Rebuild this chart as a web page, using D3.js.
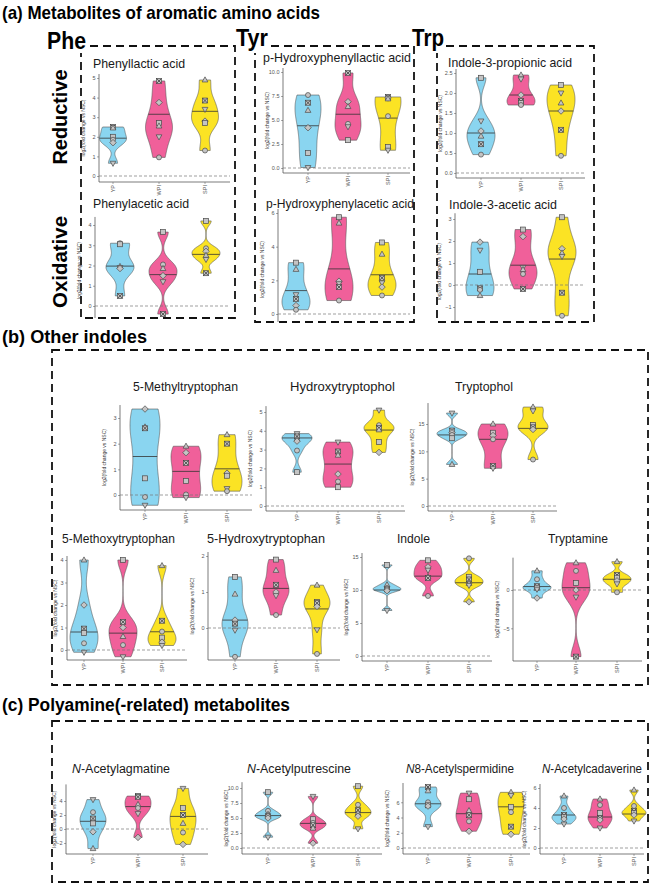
<!DOCTYPE html>
<html>
<head>
<meta charset="utf-8">
<script src="https://cdnjs.cloudflare.com/ajax/libs/d3/7.8.5/d3.min.js"></script>
<style>body{margin:0;background:#fff}</style>
</head>
<body>
<div id="chart"></div>
<script>
// groups and colours
var groups = ["YP", "WPI", "SPI"];
var groupColors = ["#8ad5f0", "#f0609a", "#fbe324"];

// values: [log2 fold change, shape]  o circle, t triangle, s square, d diamond, v triangle down, x crossed square
// (a) aromatic amino acids
var phenyllactic = {
  YP: [[2.5, "x"], [2.45, "t"], [2.0, "s"], [1.85, "o"], [1.7, "d"], [0.65, "v"]],
  WPI: [[4.85, "x"], [3.75, "d"], [2.7, "s"], [2.55, "t"], [2.0, "v"], [0.95, "o"]],
  SPI: [[4.9, "t"], [3.85, "x"], [3.4, "v"], [2.8, "d"], [2.7, "s"], [1.3, "o"]]
};
var phenyllacticLine = [1.93, 3.15, 3.3];

var phenylacetic = {
  YP: [[3.1, "o"], [3.05, "s"], [1.95, "t"], [1.9, "v"], [1.85, "d"], [0.5, "x"]],
  WPI: [[3.65, "s"], [2.05, "o"], [1.85, "t"], [1.5, "d"], [1.2, "v"], [-0.4, "x"]],
  SPI: [[4.2, "s"], [2.85, "o"], [2.7, "d"], [2.5, "t"], [2.3, "v"], [1.62, "x"]]
};
var phenylaceticLine = [1.97, 1.55, 2.55];

var hpLactic = {
  YP: [[7.6, "o"], [6.8, "x"], [6.0, "t"], [4.2, "d"], [1.55, "s"], [0.05, "v"]],
  WPI: [[9.9, "x"], [6.9, "d"], [6.4, "t"], [4.6, "o"], [4.3, "v"], [2.9, "s"]],
  SPI: [[7.4, "x"], [7.3, "d"], [7.2, "t"], [5.4, "o"], [2.2, "s"], [1.85, "v"]]
};
var hpLacticLine = [4.4, 5.6, 5.2];

var hpAcetic = {
  YP: [[3.05, "s"], [2.65, "t"], [1.15, "v"], [0.9, "x"], [0.5, "d"], [0.25, "o"]],
  WPI: [[5.75, "s"], [5.4, "t"], [1.95, "d"], [1.8, "v"], [1.6, "x"], [0.8, "o"]],
  SPI: [[4.25, "s"], [3.55, "t"], [2.15, "x"], [1.85, "v"], [1.6, "d"], [1.1, "o"]]
};
var hpAceticLine = [1.39, 2.68, 2.33];

var indolePropionic = {
  YP: [[2.38, "s"], [1.3, "v"], [1.05, "d"], [0.92, "t"], [0.72, "x"], [0.46, "o"]],
  WPI: [[2.45, "t"], [2.35, "v"], [1.95, "d"], [1.8, "x"], [1.75, "s"], [1.7, "o"]],
  SPI: [[2.2, "s"], [2.0, "v"], [1.75, "t"], [1.55, "d"], [1.08, "x"], [0.43, "o"]]
};
var indolePropionicLine = [1.0, 1.95, 1.55];

var indoleAcetic = {
  YP: [[1.95, "d"], [1.58, "v"], [0.6, "s"], [-0.15, "x"], [-0.22, "o"], [-0.48, "t"]],
  WPI: [[2.52, "s"], [2.2, "d"], [0.8, "v"], [0.7, "t"], [0.5, "o"], [-0.18, "x"]],
  SPI: [[3.08, "s"], [1.65, "d"], [1.45, "t"], [1.3, "v"], [-0.35, "x"], [-1.4, "o"]]
};
var indoleAceticLine = [0.5, 0.9, 1.18];

// (b) other indoles
var methylTrp = {
  YP: [[3.35, "d"], [2.65, "t"], [2.6, "x"], [0.65, "s"], [-0.08, "o"], [-0.4, "v"]],
  WPI: [[1.9, "t"], [1.65, "d"], [1.25, "x"], [0.55, "s"], [0.02, "o"], [-0.1, "v"]],
  SPI: [[2.35, "t"], [2.0, "x"], [0.85, "d"], [0.75, "s"], [0.25, "v"], [0.15, "o"]]
};
var methylTrpLine = [1.5, 0.92, 1.02];

var hydroxytryptophol = {
  YP: [[3.85, "v"], [3.7, "x"], [3.55, "t"], [3.45, "d"], [2.95, "o"], [1.8, "s"]],
  WPI: [[3.4, "v"], [2.9, "x"], [2.7, "t"], [1.7, "d"], [1.3, "o"], [1.0, "s"]],
  SPI: [[5.1, "v"], [4.3, "o"], [4.15, "x"], [4.05, "t"], [3.4, "s"], [2.85, "d"]]
};
var hydroxytryptopholLine = [3.62, 2.23, 4.04];

var tryptophol = {
  YP: [[17.0, "v"], [13.8, "x"], [13.4, "d"], [13.0, "o"], [12.4, "s"], [7.6, "t"]],
  WPI: [[15.0, "t"], [13.4, "s"], [12.9, "d"], [12.2, "o"], [7.3, "x"], [6.9, "v"]],
  SPI: [[18.1, "t"], [17.4, "v"], [14.8, "s"], [14.4, "x"], [14.0, "d"], [8.5, "o"]]
};
var tryptopholLine = [13.0, 12.2, 14.2];

var methoxyTrp = {
  YP: [[4.0, "t"], [2.0, "d"], [0.95, "x"], [0.75, "s"], [0.3, "o"], [-0.1, "v"]],
  WPI: [[4.0, "s"], [1.25, "x"], [1.0, "d"], [0.6, "t"], [0.22, "o"], [-0.3, "v"]],
  SPI: [[3.75, "t"], [1.3, "x"], [0.82, "o"], [0.55, "s"], [0.35, "d"], [0.2, "v"]]
};
var methoxyTrpLine = [0.8, 0.75, 0.81];

var hydroxyTrp = {
  YP: [[1.42, "s"], [0.94, "t"], [0.22, "d"], [0.12, "x"], [-0.06, "v"], [-0.8, "o"]],
  WPI: [[1.9, "s"], [1.6, "t"], [1.2, "x"], [1.0, "d"], [0.9, "v"], [0.36, "o"]],
  SPI: [[1.19, "t"], [0.72, "s"], [0.69, "x"], [0.6, "d"], [-0.05, "v"], [-0.72, "o"]]
};
var hydroxyTrpLine = [0.22, 1.1, 0.53];

var indole = {
  YP: [[13.8, "s"], [10.8, "t"], [10.3, "o"], [10.1, "x"], [9.9, "d"], [6.9, "v"]],
  WPI: [[14.5, "s"], [13.5, "d"], [13.0, "v"], [12.0, "t"], [11.8, "x"], [9.1, "o"]],
  SPI: [[14.8, "o"], [12.0, "s"], [11.6, "x"], [11.0, "t"], [10.7, "v"], [8.2, "d"]]
};
var indoleLine = [10.0, 12.1, 11.1];

var tryptamine = {
  YP: [[2.5, "t"], [1.4, "o"], [0.5, "x"], [0.3, "s"], [0.1, "v"], [-1.05, "d"]],
  WPI: [[3.55, "t"], [2.5, "o"], [0.9, "s"], [0.0, "d"], [-0.93, "v"], [-8.7, "x"]],
  SPI: [[3.7, "t"], [1.96, "x"], [1.6, "s"], [1.2, "d"], [0.8, "v"], [-0.3, "o"]]
};
var tryptamineLine = [0.45, 0.3, 1.4];

// (c) polyamine(-related)
var agmatine = {
  YP: [[4.2, "v"], [2.4, "o"], [1.5, "x"], [0.8, "s"], [-0.4, "d"], [-2.8, "t"]],
  WPI: [[4.7, "s"], [4.6, "x"], [3.5, "t"], [3.0, "o"], [2.2, "v"], [-1.2, "d"]],
  SPI: [[5.8, "v"], [3.0, "s"], [2.0, "x"], [0.8, "t"], [-0.5, "o"], [-2.2, "d"]]
};
var agmatineLine = [1.1, 3.2, 1.8];

var putrescine = {
  YP: [[9.3, "s"], [6.2, "o"], [5.6, "t"], [5.3, "x"], [5.0, "d"], [1.8, "v"]],
  WPI: [[8.6, "v"], [4.8, "s"], [4.2, "o"], [3.8, "x"], [3.3, "t"], [0.8, "d"]],
  SPI: [[10.3, "s"], [7.2, "o"], [6.3, "x"], [5.8, "t"], [5.3, "d"], [3.2, "v"]]
};
var putrescineLine = [5.4, 4.1, 5.9];

var spermidine = {
  YP: [[8.0, "x"], [7.5, "t"], [6.0, "o"], [5.6, "s"], [5.5, "d"], [2.8, "v"]],
  WPI: [[7.2, "v"], [6.4, "s"], [4.9, "t"], [4.3, "x"], [3.5, "o"], [2.2, "d"]],
  SPI: [[7.3, "t"], [6.9, "v"], [5.4, "s"], [4.7, "o"], [2.8, "x"], [1.8, "d"]]
};
var spermidineLine = [5.8, 4.5, 5.4];

var cadaverine = {
  YP: [[5.2, "t"], [4.0, "o"], [3.3, "x"], [3.1, "s"], [2.9, "d"], [2.4, "v"]],
  WPI: [[4.9, "t"], [4.3, "o"], [3.5, "s"], [3.0, "x"], [2.8, "d"], [2.0, "v"]],
  SPI: [[5.8, "t"], [4.2, "o"], [3.7, "x"], [3.5, "s"], [3.3, "d"], [2.7, "v"]]
};
var cadaverineLine = [3.3, 3.1, 3.4];

var svg = d3.select("#chart").append("svg")
  .attr("width", 653)
  .attr("height", 885)
  .style("font-family", "'Liberation Sans', Arial, sans-serif");

svg.append("rect").attr("width", 653).attr("height", 885).attr("fill", "#fff");
var defs = svg.append("defs");

// bandwidth like R's bw.nrd0
function bwNrd0(x) {
  var sorted = x.slice().sort(d3.ascending);
  var sd = d3.deviation(x);
  var iqr = d3.quantileSorted(sorted, 0.75) - d3.quantileSorted(sorted, 0.25);
  var lo = Math.min(sd, iqr / 1.34);
  if (!lo) lo = sd || Math.abs(sorted[0]) || 1;
  return 0.9 * lo * Math.pow(x.length, -0.2);
}

function density(vals) {
  var bw = bwNrd0(vals);
  var ext = d3.extent(vals);
  var n = 120;
  return d3.range(n + 1).map(function(i) {
    var v = ext[0] + (ext[1] - ext[0]) * i / n;
    var d = d3.mean(vals, function(p) { return Math.exp(-0.5 * Math.pow((v - p) / bw, 2)); });
    return {v: v, d: d};
  });
}

function drawShape(g, code, cx, cy) {
  var r = 2.5;
  var el;
  if (code === "o") {
    el = g.append("circle").attr("cx", cx).attr("cy", cy).attr("r", r);
  } else if (code === "t") {
    el = g.append("path").attr("d", "M" + cx + "," + (cy - r * 1.25) + "L" + (cx + r * 1.15) + "," + (cy + r * 0.8) + "L" + (cx - r * 1.15) + "," + (cy + r * 0.8) + "Z");
  } else if (code === "v") {
    el = g.append("path").attr("d", "M" + cx + "," + (cy + r * 1.25) + "L" + (cx + r * 1.15) + "," + (cy - r * 0.8) + "L" + (cx - r * 1.15) + "," + (cy - r * 0.8) + "Z");
  } else if (code === "d") {
    el = g.append("path").attr("d", "M" + cx + "," + (cy - r * 1.3) + "L" + (cx + r * 1.3) + "," + cy + "L" + cx + "," + (cy + r * 1.3) + "L" + (cx - r * 1.3) + "," + cy + "Z");
  } else {
    el = g.append("rect").attr("x", cx - r).attr("y", cy - r).attr("width", 2 * r).attr("height", 2 * r);
  }
  el.attr("fill", "#c4c4c4").attr("stroke", "#4a4a4a").attr("stroke-width", 0.7);
  if (code === "x") {
    g.append("path")
      .attr("d", "M" + (cx - r) + "," + (cy - r) + "L" + (cx + r) + "," + (cy + r) + "M" + (cx + r) + "," + (cy - r) + "L" + (cx - r) + "," + (cy + r))
      .attr("stroke", "#3a3a3a").attr("stroke-width", 0.8);
  }
}

// one violin panel
function drawPanel(p, data, lines) {
  var y = d3.scaleLinear()
    .domain([p.yRef[0][0], p.yRef[1][0]])
    .range([p.yRef[0][1], p.yRef[1][1]]);
  var x = d3.scaleOrdinal().domain(groups).range(p.centers);

  var g = svg.append("g");
  if (p.clip) {
    defs.append("clipPath").attr("id", "clip-" + p.key)
      .append("rect").attr("x", 0).attr("y", 0).attr("width", 653).attr("height", p.clip);
    g.attr("clip-path", "url(#clip-" + p.key + ")");
  }

  // title
  var t = g.append("text")
    .attr("x", p.tx)
    .attr("y", p.ty)
    .attr("font-size", p.fs || 13)
    .attr("fill", "#1a1a1a")
    .attr("textLength", p.tw)
    .attr("lengthAdjust", "spacingAndGlyphs");
  if (p.italic) {
    t.append("tspan").attr("font-style", "italic").text(p.italic);
  }
  t.append("tspan").text(p.title);

  var allVals = [];
  groups.forEach(function(k) { data[k].forEach(function(d) { allVals.push(d[0]); }); });
  var top = Math.min(y(d3.max(p.ticks)), y(d3.max(allVals))) - 4;

  // y axis
  var yAxis = d3.axisLeft(y).tickValues(p.ticks).tickSize(2).tickPadding(1.5)
    .tickFormat(d3.format(p.fmt || "d"));
  var ya = g.append("g")
    .attr("transform", "translate(" + p.axisX + ",0)")
    .call(yAxis);
  ya.select(".domain").remove();
  ya.selectAll("line").attr("stroke", "#555").attr("stroke-width", 0.5);
  ya.selectAll("text").attr("font-size", 5.5).attr("fill", "#555").attr("font-family", "'Liberation Sans', Arial, sans-serif");
  g.append("line")
    .attr("x1", p.axisX).attr("x2", p.axisX)
    .attr("y1", top).attr("y2", p.xAxisY)
    .attr("stroke", "#444").attr("stroke-width", 0.7);

  // y title
  g.append("text")
    .attr("transform", "translate(" + (p.axisX - (p.yTitleOff || 14)) + "," + ((top + p.xAxisY) / 2) + ") rotate(-90)")
    .attr("text-anchor", "middle")
    .attr("font-size", 5)
    .attr("fill", "#333")
    .text("log2(fold change vs NSC)");

  // x axis
  g.append("line")
    .attr("x1", p.axisX).attr("x2", p.axisEnd)
    .attr("y1", p.xAxisY).attr("y2", p.xAxisY)
    .attr("stroke", "#444").attr("stroke-width", 0.7);
  groups.forEach(function(k) {
    g.append("line")
      .attr("x1", x(k)).attr("x2", x(k))
      .attr("y1", p.xAxisY).attr("y2", p.xAxisY + 2)
      .attr("stroke", "#555").attr("stroke-width", 0.5);
    g.append("text")
      .attr("transform", "translate(" + (x(k) + 2) + "," + (p.xAxisY + 3) + ") rotate(-90)")
      .attr("text-anchor", "end")
      .attr("font-size", 5.5)
      .attr("fill", "#555")
      .text(k);
  });

  // violins
  groups.forEach(function(k, i) {
    var vals = data[k].map(function(d) { return d[0]; });
    var dens = density(vals);
    var maxD = d3.max(dens, function(d) { return d.d; });
    var w = d3.scaleLinear().domain([0, maxD]).range([0, p.hw]);
    var cx = x(k);
    var area = d3.area()
      .x0(function(d) { return cx - w(d.d); })
      .x1(function(d) { return cx + w(d.d); })
      .y(function(d) { return y(d.v); });
    g.append("path")
      .datum(dens)
      .attr("d", area)
      .attr("fill", groupColors[i])
      .attr("stroke", "#555")
      .attr("stroke-width", 0.6);

    // line across the violin
    var lv = lines[i];
    var j = d3.bisector(function(d) { return d.v; }).left(dens, lv);
    j = Math.max(1, Math.min(dens.length - 1, j));
    var a = dens[j - 1], b = dens[j];
    var f = (b.v - a.v) ? (lv - a.v) / (b.v - a.v) : 0;
    var half = w(a.d + (b.d - a.d) * f);
    g.append("line")
      .attr("x1", cx - half).attr("x2", cx + half)
      .attr("y1", y(lv)).attr("y2", y(lv))
      .attr("stroke", "#333").attr("stroke-width", 0.8);
  });

  // zero reference line
  g.append("line")
    .attr("x1", p.axisX).attr("x2", p.axisEnd)
    .attr("y1", y(0)).attr("y2", y(0))
    .attr("stroke", "#777").attr("stroke-width", 0.7)
    .attr("stroke-dasharray", "3,2");

  // points
  groups.forEach(function(k) {
    data[k].forEach(function(d) {
      drawShape(g, d[1], x(k), y(d[0]));
    });
  });
}

// dashed frames
function dashedPath(d) {
  svg.append("path")
    .attr("d", d)
    .attr("fill", "none")
    .attr("stroke", "#111")
    .attr("stroke-width", 1.8)
    .attr("stroke-dasharray", "8,5");
}

function bigText(txt, x, y, w, size, anchor, rot) {
  var t = svg.append("text")
    .attr("font-weight", "bold")
    .attr("font-size", size)
    .attr("fill", "#000")
    .attr("textLength", w)
    .attr("lengthAdjust", "spacingAndGlyphs")
    .text(txt);
  if (rot) {
    t.attr("transform", "translate(" + x + "," + y + ") rotate(-90)").attr("text-anchor", "middle");
  } else {
    t.attr("x", x).attr("y", y);
  }
}

// section titles
bigText("(a) Metabolites of aromatic amino acids", 2, 19, 318, 19);
bigText("Phe", 47, 49, 39, 24);
bigText("Tyr", 236, 46, 32, 24);
bigText("Trp", 412, 46, 32, 24);
bigText("Reductive", 67, 117, 95, 21, "middle", true);
bigText("Oxidative", 67, 262, 92, 21, "middle", true);
bigText("(b) Other indoles", 2, 343, 145, 18);
bigText("(c) Polyamine(-related) metabolites", 2, 711, 288, 18);

dashedPath("M90,46H235V318H81V53");
dashedPath("M271,46H414V322H255V53");
dashedPath("M446,46H594V322H437V53");
dashedPath("M52,350H648V685H52Z");
dashedPath("M52,721H648V882H52Z");

// panels
drawPanel({key: "pla", title: "Phenyllactic acid", tx: 93, ty: 68, tw: 92,
  yRef: [[0, 176], [5, 78]], ticks: [0, 1, 2, 3, 4, 5], axisX: 99, axisEnd: 230, xAxisY: 182,
  centers: [113, 159, 205], hw: 13.5}, phenyllactic, phenyllacticLine);
drawPanel({key: "paa", title: "Phenylacetic acid", tx: 93, ty: 208, tw: 96,
  yRef: [[0, 306], [4, 225]], ticks: [0, 1, 2, 3, 4], axisX: 95, axisEnd: 230, xAxisY: 324,
  centers: [120, 163, 206], hw: 14, clip: 318}, phenylacetic, phenylaceticLine);
drawPanel({key: "hpla", title: "p-Hydroxyphenyllactic acid", tx: 263, ty: 62, tw: 148,
  yRef: [[0, 168], [10, 72]], ticks: [0, 2.5, 5, 7.5, 10], fmt: ".1f", axisX: 283, axisEnd: 410, xAxisY: 173,
  centers: [308, 348, 388], hw: 13}, hpLactic, hpLacticLine);
drawPanel({key: "hpaa", title: "p-Hydroxyphenylacetic acid", tx: 266, ty: 208, tw: 148,
  yRef: [[0, 314], [6, 213]], ticks: [0, 2, 4, 6], axisX: 278, axisEnd: 410, xAxisY: 330,
  centers: [296, 339, 382], hw: 14, clip: 322}, hpAcetic, hpAceticLine);
drawPanel({key: "ipa", title: "Indole-3-propionic acid", tx: 448, ty: 67, tw: 124,
  yRef: [[0, 173], [2.5, 73]], ticks: [0, 0.5, 1, 1.5, 2, 2.5], fmt: ".1f", axisX: 456, axisEnd: 585, xAxisY: 178,
  centers: [481, 521, 561], hw: 14}, indolePropionic, indolePropionicLine);
drawPanel({key: "iaa", title: "Indole-3-acetic acid", tx: 449, ty: 209, tw: 108,
  yRef: [[0, 285], [3, 219]], ticks: [-1, 0, 1, 2, 3], axisX: 455, axisEnd: 585, xAxisY: 330,
  centers: [480, 523, 562], hw: 14, clip: 322}, indoleAcetic, indoleAceticLine);

drawPanel({key: "mtrp", title: "5-Methyltryptophan", tx: 133, ty: 391, tw: 105,
  yRef: [[0, 495], [3, 418]], ticks: [0, 1, 2, 3], axisX: 120, axisEnd: 252, xAxisY: 510,
  centers: [145, 186, 227], hw: 15}, methylTrp, methylTrpLine);
drawPanel({key: "htol", title: "Hydroxytryptophol", tx: 290, ty: 391, tw: 105,
  yRef: [[0, 506], [5, 412]], ticks: [0, 1, 2, 3, 4, 5], axisX: 266, axisEnd: 405, xAxisY: 511,
  centers: [297, 338, 379], hw: 15}, hydroxytryptophol, hydroxytryptopholLine);
drawPanel({key: "tol", title: "Tryptophol", tx: 455, ty: 391, tw: 58,
  yRef: [[0, 506], [15, 424]], ticks: [0, 5, 10, 15], axisX: 428, axisEnd: 557, xAxisY: 511,
  centers: [452, 493, 533], hw: 15}, tryptophol, tryptopholLine);

drawPanel({key: "motrp", title: "5-Methoxytryptophan", tx: 62, ty: 543, tw: 113,
  yRef: [[0, 650], [4, 560]], ticks: [0, 1, 2, 3, 4], axisX: 67, axisEnd: 187, xAxisY: 660, yTitleOff: 10,
  centers: [84, 123, 162], hw: 14}, methoxyTrp, methoxyTrpLine);
drawPanel({key: "htrp", title: "5-Hydroxytryptophan", tx: 207, ty: 543, tw: 118,
  yRef: [[0, 628], [1, 592]], ticks: [0, 1, 2], axisX: 208, axisEnd: 340, xAxisY: 660,
  centers: [235, 276, 317], hw: 13}, hydroxyTrp, hydroxyTrpLine);
drawPanel({key: "ind", title: "Indole", tx: 397, ty: 543, tw: 33,
  yRef: [[0, 656], [10, 590]], ticks: [0, 5, 10, 15], axisX: 362, axisEnd: 492, xAxisY: 661,
  centers: [387, 428, 469], hw: 14}, indole, indoleLine);
drawPanel({key: "tam", title: "Tryptamine", tx: 548, ty: 543, tw: 60,
  yRef: [[0, 590], [-5, 628.3]], ticks: [-5, 0], axisX: 513, axisEnd: 642, xAxisY: 661,
  centers: [537, 576, 617], hw: 14}, tryptamine, tryptamineLine);

drawPanel({key: "agm", italic: "N", title: "-Acetylagmatine", tx: 72, ty: 773, tw: 98, fs: 12,
  yRef: [[-3, 850], [6, 787]], ticks: [-2, 0, 2, 4], axisX: 66, axisEnd: 208, xAxisY: 854, yTitleOff: 10,
  centers: [93, 138, 183], hw: 13}, agmatine, agmatineLine);
drawPanel({key: "put", italic: "N", title: "-Acetylputrescine", tx: 247, ty: 773, tw: 104, fs: 12,
  yRef: [[0, 848], [10, 788]], ticks: [0, 2.5, 5, 7.5, 10], fmt: ".1f", axisX: 242, axisEnd: 382, xAxisY: 854,
  centers: [268, 313, 358], hw: 13}, putrescine, putrescineLine);
drawPanel({key: "spd", italic: "N", title: "8-Acetylspermidine", tx: 406, ty: 773, tw: 108, fs: 12,
  yRef: [[0, 848], [8, 787]], ticks: [0, 2, 4, 6], axisX: 403, axisEnd: 530, xAxisY: 854,
  centers: [428, 469, 511], hw: 13}, spermidine, spermidineLine);
drawPanel({key: "cad", italic: "N", title: "-Acetylcadaverine", tx: 542, ty: 773, tw: 100, fs: 12,
  yRef: [[0, 848], [6, 788]], ticks: [0, 2, 4, 6], axisX: 540, axisEnd: 644, xAxisY: 854,
  centers: [564, 600, 634], hw: 12}, cadaverine, cadaverineLine);
</script>
</body>
</html>
